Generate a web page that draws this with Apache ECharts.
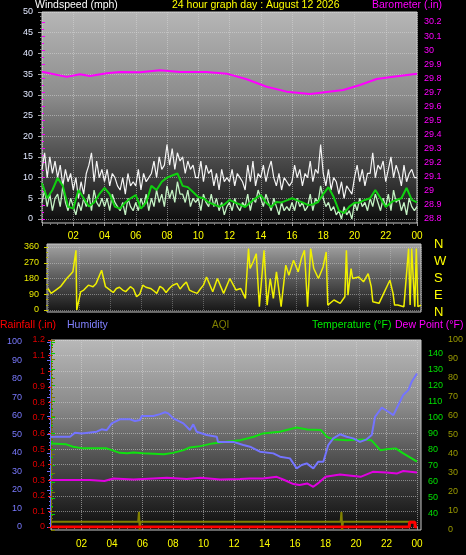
<!DOCTYPE html>
<html><head><meta charset="utf-8">
<script src="https://cdn.jsdelivr.net/npm/echarts@6/dist/echarts.min.js"></script>
<style>html,body{margin:0;padding:0;background:#000;}#c{width:466px;height:555px;}</style>
</head><body><div id="c"></div>
<script>
// ---------- DATA ----------
const chartTitle = '24 hour graph day : August 12 2026';
// wind, 10-minute samples from 00:00 to 24:00 (mph)
const windGust = [
 12,16,10,15,11,14, 10,13,8,12,9,11, 7,10,5,9,6,11, 13,16,9,14,10,12,
 9,12,8,11,10,8, 7,10,6,11,8,9, 8,12,7,11,9,10, 11,14,10,15,12,13,
 18,13,17,12,16,14, 15,11,14,12,13,10, 10,14,9,13,11,12, 8,11,7,12,9,10,
 9,12,8,11,10,9, 7,13,9,14,8,11, 10,13,9,12,14,10, 8,11,7,10,9,8,
 9,13,10,12,8,11, 10,14,9,12,11,18, 11,8,12,7,10,9, 6,9,5,8,7,6,
 10,13,9,12,8,11, 11,16,10,13,12,14, 9,12,15,10,13,11, 8,13,9,11,12,10,
 10];
const windSpeed = [
 4,7,3,6,2,5, 6,3,8,4,2,5, 3,1,4,2,5,3, 6,2,7,4,3,5,
 3,5,2,6,4,3, 2,4,1,5,3,2, 4,2,5,3,6,2, 5,3,7,4,6,3,
 8,5,7,4,9,6, 6,4,7,3,5,4, 5,2,6,4,3,6, 3,5,2,4,1,3,
 4,2,5,3,2,4, 3,6,2,5,4,7, 5,3,6,4,2,5, 3,1,4,2,3,2,
 4,2,5,3,4,2, 3,6,2,5,4,8, 5,3,4,2,3,1, 2,0,3,1,2,0,
 4,2,5,3,4,2, 5,3,6,4,2,5, 3,6,2,7,4,5, 2,4,1,5,3,2,
 3];
// wind average, 20-minute samples (mph)
const windAvg = [
 8.7,5,7, 9.9,8,3, 2.5,7,5, 3,4,6, 7.5,6,3, 2.5,4,5, 5.8,2.5,4, 8,7,9,
 10,10.5,11, 8,7.7,6.5, 5.3,5,4, 3.5,3,3.5, 4.6,4,3.5, 2.9,4,5, 5.8,4,2.9, 4.1,4,4.5,
 5,4.5,4, 3.4,3.5,4.1, 6,7.7,5.3, 2,1.4,3, 3.9,4,4.6, 5,7,5, 2.9,4,4.6, 5,7.5,4.6,
 4];
const baroHours  = [0, 1.58, 2.43, 3.07, 4.14, 4.99, 6.27, 7.55, 8.83, 10.54, 11.82, 13.1, 14.38, 15.66, 17.15, 18.22, 19.28, 20.35, 21.42, 22.48, 24];
const baroValues = [29.847, 29.81, 29.828, 29.816, 29.836, 29.845, 29.843, 29.857, 29.845, 29.845, 29.833, 29.793, 29.74, 29.705, 29.688, 29.703, 29.717, 29.752, 29.795, 29.811, 29.833];

const dirHours  = [0,0.2,0.5,0.8,1.2,1.4,1.6,1.8,1.85,2.1,2.3,2.6,2.9,3.1,3.45,3.7,4.0,4.2,4.4,4.6,4.8,5.0,5.3,5.5,5.7,5.9,6.1,6.3,6.6,6.8,7.0,7.2,7.4,7.6,7.8,8.0,8.3,8.5,8.7,8.9,9.1,9.3,9.6,9.8,10.0,10.2,10.6,10.9,11.3,11.7,12.1,12.4,12.7,12.9,13.0,13.2,13.4,13.6,13.9,14.1,14.3,14.5,14.7,15.0,15.3,15.5,15.8,16.1,16.3,16.5,16.7,16.9,17.1,17.4,17.7,17.9,18.0,18.4,18.8,19.1,19.2,19.3,19.5,19.6,20.0,20.3,20.6,20.8,20.9,21.3,21.6,21.8,22.0,22.2,22.3,22.5,22.9,23.2,23.3,23.4,23.6,23.7,23.8,24.0];
const dirValues = [123,95,114,133,180,199,218,341,0,104,114,142,133,152,227,133,114,100,123,130,114,105,133,120,76,90,142,130,123,110,95,135,123,100,123,140,152,120,142,160,114,105,95,120,142,189,104,180,95,180,114,123,66,351,237,275,322,19,341,28,180,66,218,19,256,199,284,218,294,341,19,351,237,180,246,332,28,57,38,76,341,85,237,180,189,161,208,133,47,38,95,133,170,95,28,28,19,351,28,351,19,351,19,28];

const humHours  = [0,1.25,1.57,2.01,2.1,3.0,3.32,3.65,3.98,4.52,5.18,5.51,5.84,5.95,6.71,7.15,7.48,7.69,8.02,8.68,9.11,9.33,9.55,10.21,10.87,10.95,11.95,12.61,13.05,13.7,14.58,15.02,15.67,16.11,16.44,16.77,17.2,17.53,17.86,18.18,18.51,18.95,19.39,19.82,20.26,20.7,21.03,21.25,21.69,22.12,22.45,22.67,23.1,23.43,23.65,24];
const humValues = [48.8,48.8,51,50.5,51.5,51.5,52.8,52.3,56,58.2,58.2,57.3,57.8,60,60,61,62,61.4,58.7,56,52.4,55.5,51.5,49.7,48.8,46,46,44.3,43.4,40.7,39.8,38,37.1,31.7,33.5,34.4,31.7,35.3,35.3,44.3,47.9,50.1,48.8,47.9,46,47.4,49.7,59.6,64.5,62.3,60.5,64.2,71.4,74,78.5,83];
const tempHours  = [0,1.0,1.45,2.1,3.65,4.0,4.5,5.0,5.4,6.05,7.4,8.0,8.7,9.1,9.8,10.6,11.5,12.4,13.3,13.9,15.0,16.1,16.8,17.7,18.1,18.5,19.4,20.5,21.0,21.6,22.0,22.6,23.1,23.65,24];
const tempValues = [83.9,83.3,81.8,80.8,80.8,79.7,78,77.7,78.3,77.7,77.2,78,79.7,81.4,82.2,83.9,84.9,85.9,88,90.1,91.1,93.8,92.6,92.2,88,86.4,85.9,86.4,85.9,79.7,80.2,80.8,77.7,74.6,72.5];
const dewHours  = [0,2.55,3.5,4.1,5.4,6.7,7.6,8.9,9.8,11.1,12.4,13.05,13.9,14.8,15.3,15.9,16.3,16.8,17.2,17.5,18.0,18.95,20.3,21.1,22.0,22.7,23.1,24];
const dewValues = [61.1,61.1,60.5,62.1,61.5,62.1,62.5,61.7,62.5,61.5,61.7,62.1,62.1,63.1,61.1,58.6,58,59,56.9,59,63.1,64.6,63.1,66.2,65.8,65.2,66.7,65.8];
const rainHours  = [0, 23.5, 23.5, 23.87, 23.87, 24];
const rainValues = [0, 0, 0.03, 0.03, 0, 0];
const aqiHours  = [0, 5.75, 5.8, 5.85, 5.9, 19.1, 19.15, 19.2, 19.25, 24];
const aqiValues = [4.4, 4.4, 9.5, 0, 4.4, 4.4, 9.5, 0, 4.4, 4.4];
const compassLabels = {0: 'N', 90: 'E', 180: 'S', 270: 'W', 360: 'N'};

// ---------- BUILD ----------
const pairs = (xs, ys) => xs.map((x, i) => [x, ys[i]]);
const byStep = (ys, perHour) => ys.map((v, i) => [i / perHour, v]);
const hourLabel = v => (Math.round(v) % 24 === 0 ? '00' : String(Math.round(v)).padStart(2, '0'));
const num = v => String(parseFloat((+v).toFixed(2)));
const FONT = 'Liberation Sans';
const grad = (stops) => new echarts.graphic.LinearGradient(0, 0, 0, 1, stops.map((c) => ({offset: c[0], color: c[1]})));
const dotted = (c) => ({show: true, lineStyle: {color: c, type: 'dotted', width: 1}});
const hiddenX = (g) => ({type: 'value', gridIndex: g, min: 0, max: 24, show: false});
const hiddenY = (g) => ({type: 'value', gridIndex: g, min: 0, max: 1, show: false});

const topBg = grad([[0, '#b6b6b6'], [0.4, '#8c8c8c'], [0.7, '#4a4a4a'], [0.88, '#262626'], [1, '#0a0a0a']]);
const midBg = grad([[0, '#a4a4a4'], [0.5, '#5a5a5a'], [1, '#141414']]);
const botBg = grad([[0, '#b8b8b8'], [0.35, '#8a8a8a'], [0.6, '#555555'], [0.85, '#282828'], [1, '#0c0c0c']]);

const grid = [
  {left: 42, top: 12, width: 375, height: 211, show: true, backgroundColor: topBg, borderColor: '#c8c8c8', borderWidth: 1}, // 0 top frame
  {left: 42, top: 12, width: 375, height: 207},   // 1 wind
  {left: 42, top: 22, width: 375, height: 197},   // 2 baro
  {left: 47, top: 244, width: 374, height: 68, show: true, backgroundColor: midBg, borderColor: '#c8c8c8', borderWidth: 1}, // 3 dir frame
  {left: 48, top: 247, width: 373, height: 63},   // 4 dir
  {left: 51, top: 340, width: 370, height: 190, show: true, backgroundColor: botBg, borderColor: '#c8c8c8', borderWidth: 1}, // 5 bottom frame
  {left: 51, top: 342, width: 366, height: 185},  // 6 humidity
  {left: 51, top: 340, width: 366, height: 187},  // 7 rain
  {left: 51, top: 342, width: 366, height: 188},  // 8 temperature
  {left: 51, top: 340, width: 366, height: 190}   // 9 aqi
];

const xAxis = [
  {type: 'value', gridIndex: 0, min: 0, max: 24, interval: 2,
   axisLine: {show: false},
   axisTick: {show: true, length: 3, lineStyle: {color: '#9a9a9a'}},
   minorTick: {show: true, splitNumber: 4, length: 2, lineStyle: {color: '#777'}},
   axisLabel: {color: '#ffff00', fontSize: 10, fontFamily: FONT, margin: 8, formatter: hourLabel, showMinLabel: false},
   splitLine: dotted('rgba(215,215,215,0.55)')},
  hiddenX(1), hiddenX(2), hiddenX(3),
  {type: 'value', gridIndex: 4, min: 0, max: 24, interval: 2,
   axisLine: {show: false}, axisTick: {show: false}, axisLabel: {show: false},
   splitLine: dotted('rgba(215,215,215,0.35)')},
  hiddenX(5),
  {type: 'value', gridIndex: 6, min: 0, max: 24, interval: 2,
   axisLine: {show: false},
   axisTick: {show: true, length: 3, lineStyle: {color: '#9a9a9a'}},
   minorTick: {show: true, splitNumber: 4, length: 2, lineStyle: {color: '#777'}},
   axisLabel: {color: '#ffff00', fontSize: 10, fontFamily: FONT, margin: 12, formatter: hourLabel, showMinLabel: false},
   splitLine: dotted('rgba(215,215,215,0.55)')},
  hiddenX(7), hiddenX(8), hiddenX(9)
];

const yAxis = [
  hiddenY(0),
  {type: 'value', gridIndex: 1, position: 'left', min: 0, max: 50, interval: 5,
   axisLine: {show: false},
   axisTick: {show: true, length: 4, lineStyle: {color: '#a0a0a0'}},
   minorTick: {show: true, splitNumber: 5, length: 2, lineStyle: {color: '#808080'}},
   axisLabel: {color: '#e2e8ff', fontSize: 9, fontFamily: FONT, margin: 9},
   splitLine: dotted('rgba(220,220,220,0.5)')},
  {type: 'value', gridIndex: 2, position: 'right', min: 28.8, max: 30.2, interval: 0.1,
   axisLine: {show: false},
   axisTick: {show: true, length: 3, lineStyle: {color: '#ff00ff'}},
   minorTick: {show: true, splitNumber: 2, length: 2, lineStyle: {color: '#ff00ff'}},
   axisLabel: {color: '#ff00ff', fontSize: 9, fontFamily: FONT, margin: 7, formatter: num},
   splitLine: {show: false}},
  {type: 'value', gridIndex: 3, position: 'right', min: 0, max: 360, interval: 90,
   axisLine: {show: false}, axisTick: {show: false}, splitLine: {show: false},
   axisLabel: {color: '#ffff00', fontSize: 13, fontFamily: FONT, margin: 13, formatter: v => compassLabels[Math.round(v)] || ''}},
  {type: 'value', gridIndex: 4, position: 'left', min: 0, max: 360, interval: 90,
   axisLine: {show: false},
   axisTick: {show: true, length: 4, lineStyle: {color: '#cccc00'}},
   minorTick: {show: true, splitNumber: 3, length: 2, lineStyle: {color: '#aaaa00'}},
   axisLabel: {color: '#e8e800', fontSize: 9, fontFamily: FONT, margin: 9},
   splitLine: dotted('rgba(220,220,220,0.45)')},
  hiddenY(5),
  {type: 'value', gridIndex: 6, position: 'left', offset: 21, min: 0, max: 100, interval: 10,
   axisLine: {show: true, lineStyle: {color: '#6c6cff', width: 2}},
   axisTick: {show: true, length: 4, lineStyle: {color: '#6c6cff'}},
   minorTick: {show: true, splitNumber: 5, length: 2, lineStyle: {color: '#6c6cff'}},
   axisLabel: {color: '#7a7aff', fontSize: 9, fontFamily: FONT, margin: 8},
   splitLine: {show: false}},
  {type: 'value', gridIndex: 7, position: 'left', min: 0, max: 1.2, interval: 0.1,
   axisLine: {show: true, lineStyle: {color: '#ff2020', type: 'dashed', width: 1}},
   axisTick: {show: true, length: 3, lineStyle: {color: '#ff2020'}},
   axisLabel: {color: '#e00000', fontSize: 9, fontFamily: FONT, margin: 6, formatter: num},
   splitLine: dotted('rgba(220,220,220,0.5)')},
  {type: 'value', gridIndex: 8, position: 'right', offset: 5, min: 30, max: 147, interval: 10,
   axisLine: {show: true, lineStyle: {color: '#00d000', type: 'dashed', width: 1}},
   axisTick: {show: true, length: 4, lineStyle: {color: '#00d000'}},
   minorTick: {show: true, splitNumber: 2, length: 2, lineStyle: {color: '#00d000'}},
   axisLabel: {color: '#00e000', fontSize: 9, fontFamily: FONT, margin: 6, showMinLabel: false, showMaxLabel: false},
   splitLine: {show: false}},
  {type: 'value', gridIndex: 9, position: 'right', offset: 26, min: 0, max: 100, interval: 10,
   axisLine: {show: true, lineStyle: {color: '#7a7a00', type: 'dashed', width: 1}},
   axisTick: {show: true, length: 4, lineStyle: {color: '#7a7a00'}},
   minorTick: {show: true, splitNumber: 5, length: 2, lineStyle: {color: '#6a6a00'}},
   axisLabel: {color: '#9a9a00', fontSize: 9, fontFamily: FONT, margin: 7},
   splitLine: {show: false}}
];

const line = (g, data, color, width, z) => ({
  type: 'line', xAxisIndex: g, yAxisIndex: g, data, symbol: 'none', z: z || 2,
  lineStyle: {color, width}, itemStyle: {color}, silent: true
});

const series = [
  line(1, byStep(windGust, 6), '#f4f4f4', 1.2, 2),
  line(1, byStep(windSpeed, 6), '#c4f2c4', 1.3, 3),
  line(1, byStep(windAvg, 3), '#10d010', 2, 4),
  line(2, pairs(baroHours, baroValues), '#ff00ff', 2, 5),
  line(4, pairs(dirHours, dirValues), '#f0f000', 1.5, 3),
  line(7, pairs(rainHours, rainValues), '#ff0000', 3, 6),
  line(9, pairs(aqiHours, aqiValues), '#808000', 2, 3),
  line(8, pairs(dewHours, dewValues), '#e000e0', 2, 4),
  line(8, pairs(tempHours, tempValues), '#10e010', 2, 4),
  line(6, pairs(humHours, humValues), '#7474ff', 2, 4)
];

const t = (text, left, top, color, size) => ({
  text, left, top, padding: 0,
  textStyle: {color, fontSize: size || 10.5, fontWeight: 'normal', fontFamily: FONT}
});
const title = [
  t('Windspeed (mph)', 35, 0, '#ffffff'),
  t(chartTitle, 172, 0, '#ffff00'),
  t('Barometer (.in)', 372, 0, '#ff00ff'),
  t('Rainfall (.in)', 0, 320, '#ff0000'),
  t('Humidity', 67, 320, '#8080ff'),
  t('AQI', 212, 320, '#808000', 10),
  t('Temperature (°F)', 312, 320, '#00ee00'),
  t('Dew Point (°F)', 395, 320, '#ff00ff')
];

const chart = echarts.init(document.getElementById('c'), null, {renderer: 'canvas'});
chart.setOption({backgroundColor: '#000', animation: false, title, grid, xAxis, yAxis, series});
</script></body></html>
